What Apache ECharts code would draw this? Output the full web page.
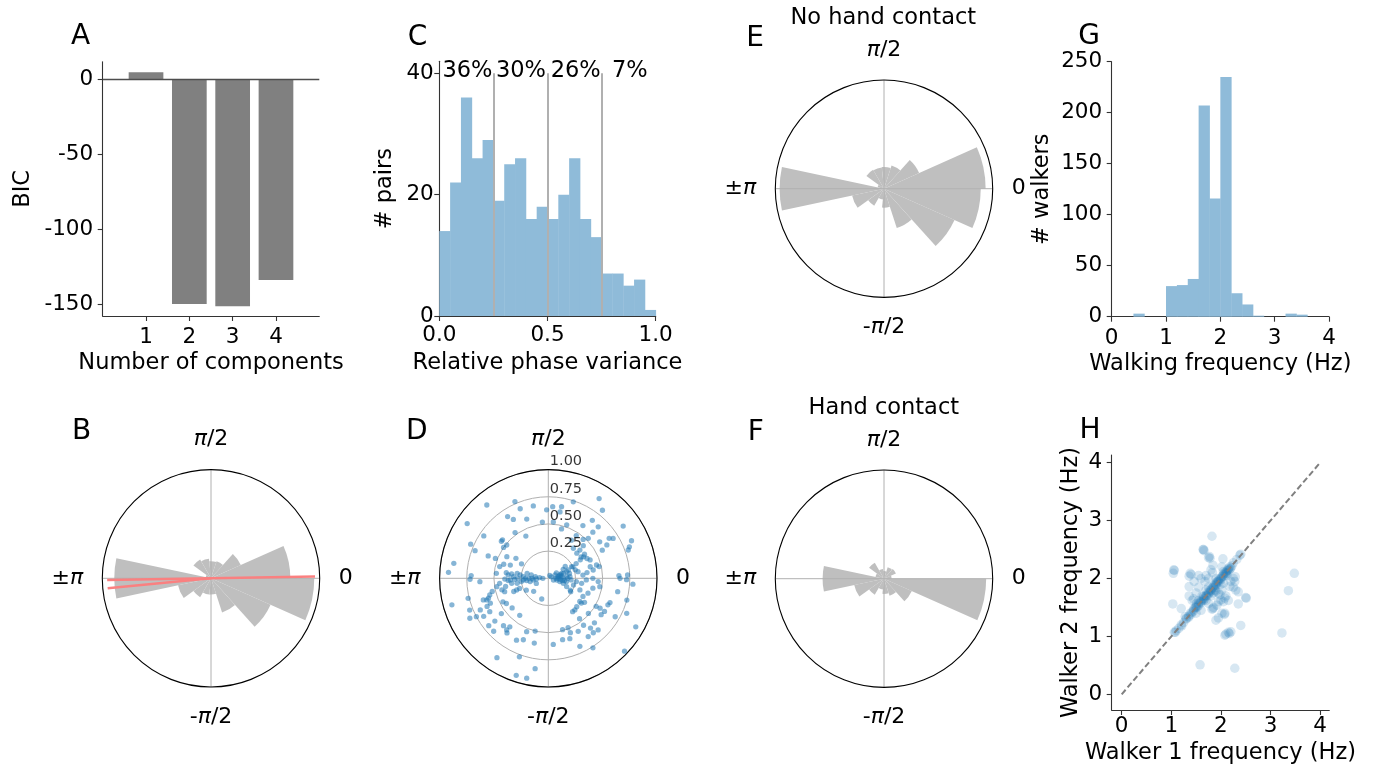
<!DOCTYPE html>
<html><head><meta charset="utf-8">
<script src="https://cdn.jsdelivr.net/npm/echarts@6/dist/echarts.min.js"></script>
<style>html,body{margin:0;padding:0;background:#fff}#c{width:1376px;height:767px}</style>
</head><body><div id="c"></div>
<script>
// ---------------- DATA ----------------
const bicComponents = [1, 2, 3, 4];
const bicValues = [5, -149.5, -151, -133.5];

const phaseVarEdges = [0,0.05,0.1,0.15,0.2,0.25,0.3,0.35,0.4,0.45,0.5,0.55,0.6,0.65,0.7,0.75,0.8,0.85,0.9,0.95,1.0];
const phaseVarCounts = [14,22,36,26,29,19,25,26,16,18,16,20,26,16,13,7,7,5,6,1];
const phaseVarCuts = [0.25, 0.5, 0.75];
const phaseVarShares = ['36%', '30%', '26%', '7%'];
const phaseVarShareX = [0.13, 0.377, 0.63, 0.88];

// rose histograms: 15 bins of 24 degrees starting at 0
const roseBins = ['12','36','60','84','108','132','156','180','204','228','252','276','300','324','348'];
const roseAll    = [0.73,0.30,0.165,0.157,0.18,0.20,0.05,0.89,0.31,0.20,0.15,0.15,0.33,0.60,0.95];
const roseNoHand = [0.935,0.354,0.225,0.20,0.195,0.20,0.06,0.96,0.30,0.18,0.10,0.175,0.38,0.71,0.89];
const roseHand   = [0.07,0.12,0.11,0.07,0.09,0.17,0.08,0.565,0.28,0.17,0.10,0.14,0.166,0.28,0.94];
const gmmMeanAngle = [1, 181, 185.5];
const gmmMeanLength = [0.957, 0.955, 0.955];

const freqEdges = [0,0.2,0.4,0.6,0.8,1.0,1.2,1.4,1.6,1.8,2.0,2.2,2.4,2.6,2.8,3.0,3.2,3.4,3.6,3.8,4.0];
const freqCounts = [0,0,3,0,0,30,31,37,207,116,235,23,12,1,0,0,3,2,0,0];

const dPhaseDeg = [130,113.5,101.7,112,123.4,120.7,110,96,146,146.7,126,118,141.7,140,145.4,141.3,156.3,159.3,159.6,159.4,
 152.5,148.3,162.5,160.8,151.7,166.4,171,176.6,178,174.5,172.4,175.2,173.3,171,173.3,167,168.7,172.9,175.4,177.3,
 176.2,180,91.4,86.5,79.5,80,71.9,57.5,51.5,52.8,45.9,34.9,84.9,75,71,56.7,46,56.8,58.7,48.1,
 45,31.6,24.3,33.3,35.4,29.7,27.5,43,41.8,50.2,41.4,33,33.6,27.1,23.7,15.4,13,15.4,10.5,8.4,
 5.4,12.5,25,17.4,13,20,35,31,20.6,16,9.5,34,26.6,26.6,63,21.2,19.5,2.2,2.4,0,
 341.6,348.7,344,341.6,349.7,356,353.3,351.5,357.5,0,356.2,335.6,331.7,345,329.2,339.8,332.4,339.4,347.5,350.8,
 356,359,349.1,344.5,338.5,336,326.4,323.1,323.6,315,310,306.1,329.6,330,329.5,325.5,318.8,307.7,316,310.3,
 306.9,314,304.4,309.6,299.4,291.8,292.1,289.6,283.1,274.3,285.5,294.9,302.7,316.3,331,335.9,330.1,
 186.3,190.3,183.8,189,183.3,187.8,190.9,185.9,194,197.1,200.9,200.2,199.4,208.3,221.6,203.2,189.2,193.2,195.9,198.4,
 199.4,203.2,204.7,198.4,182.8,180.7,194,202,207,208.1,195.4,204.9,210.5,209.7,218.7,226.6,216.9,219.3,211,207.4,
 232.3,218.5,224.1,231.1,231.6,247.9,256,232.9,242.8,247.9,237.1,249.8,261.7,257.8,251.7,257.8,252.4,
 0,355,7,0,352,12,0,5,0,351,4.4,14.7,17.7,22.6,26.6,27.9,30,31.3,
 180,180,180,183,180,181,182.5,181.7,187,186];
const dRadius = [0.88,0.77,0.68,0.69,0.68,0.63,0.58,0.52,0.90,0.71,0.52,0.44,0.55,0.55,0.50,0.49,0.78,0.72,0.59,0.52,
 0.43,0.35,0.43,0.37,0.28,0.46,0.88,0.92,0.71,0.48,0.39,0.37,0.34,0.29,0.26,0.20,0.16,0.12,0.08,0.32,
 0.23,0.18,0.63,0.66,0.67,0.62,0.74,0.87,0.80,0.67,0.66,0.84,0.52,0.47,0.52,0.58,0.59,0.47,0.41,0.48,
 0.52,0.70,0.84,0.67,0.58,0.62,0.56,0.44,0.39,0.36,0.35,0.36,0.40,0.40,0.42,0.46,0.48,0.40,0.42,0.36,
 0.32,0.28,0.25,0.26,0.20,0.18,0.19,0.16,0.13,0.11,0.09,0.09,0.07,0.03,0.03,0.80,0.78,0.65,0.73,0.66,
 0.05,0.08,0.11,0.145,0.17,0.21,0.26,0.31,0.35,0.41,0.46,0.185,0.23,0.24,0.24,0.31,0.36,0.39,0.42,0.48,
 0.78,0.72,0.65,0.75,0.61,0.60,0.40,0.38,0.36,0.37,0.38,0.38,0.51,0.55,0.60,0.59,0.49,0.47,0.59,0.60,
 0.54,0.66,0.65,0.65,0.56,0.49,0.54,0.59,0.58,0.61,0.49,0.69,0.76,0.97,0.92,0.79,0.71,
 0.14,0.17,0.23,0.29,0.37,0.34,0.40,0.45,0.44,0.42,0.34,0.31,0.28,0.23,0.18,0.12,0.48,0.53,0.56,0.58,
 0.60,0.58,0.62,0.63,0.63,0.72,0.76,0.78,0.81,0.75,0.92,0.69,0.69,0.62,0.63,0.60,0.54,0.43,0.45,0.47,
 0.43,0.70,0.70,0.61,0.57,0.53,0.50,0.63,0.64,0.61,0.87,0.77,0.84,0.94,0.94,0.61,0.20,
 0.09,0.11,0.12,0.14,0.15,0.10,0.07,0.17,0.18,0.13,0.20,0.12,0.15,0.20,0.24,0.29,0.34,0.38,
 0.28,0.21,0.15,0.11,0.05,0.40,0.35,0.31,0.25,0.20];
const dRadialTicks = [0.25, 0.5, 0.75, 1.0];

const walker1 = [1.08,1.10,1.15,1.20,1.25,1.30,1.35,1.38,1.42,1.45,1.48,1.50,1.52,1.55,1.58,1.60,1.62,1.65,1.67,1.70,
 1.72,1.74,1.76,1.78,1.80,1.82,1.84,1.86,1.88,1.90,1.92,1.94,1.96,1.98,2.00,2.02,2.04,2.06,2.08,2.10,
 2.12,2.14,2.16,2.18,2.20,1.60,1.70,1.80,1.90,2.00,2.10,1.75,1.85,1.95,2.05,1.65,1.55,1.45,1.50,1.40,
 1.35,2.15,2.18,1.62,1.70,1.75,1.85,1.90,2.00,1.55,1.80,1.70,2.05,2.12,
 1.04,1.05,1.06,1.03,1.20,1.06,1.21,1.38,1.40,1.36,1.36,1.36,1.46,1.58,1.82,1.65,1.66,1.64,1.77,1.75,
 1.78,2.04,1.84,1.80,1.83,1.88,1.90,1.84,1.85,1.82,1.90,1.95,2.02,2.08,2.07,2.08,2.10,2.17,2.15,2.20,
 2.28,2.40,2.51,2.50,2.35,2.35,2.30,2.29,2.25,2.40,2.38,2.32,3.23,3.36,3.48,2.08,2.05,2.10,2.00,2.05,
 2.18,2.25,1.92,1.65,1.51,1.28,1.30,2.02,2.12,1.75,1.92,1.95,1.70,1.75,1.60,1.68,1.55,1.50,1.45,1.55,
 1.98,2.02,1.95,2.22,2.25,1.42,1.50,1.60,2.15,2.20,2.28];
const walker2 = [1.07,1.10,1.14,1.20,1.24,1.31,1.35,1.40,1.42,1.44,1.50,1.52,1.50,1.56,1.60,1.58,1.63,1.66,1.65,1.71,
 1.70,1.76,1.75,1.80,1.78,1.83,1.85,1.84,1.90,1.88,1.93,1.95,1.94,2.00,1.98,2.03,2.05,2.04,2.10,2.08,
 2.13,2.15,2.14,2.20,2.18,1.60,1.70,1.80,1.90,2.00,2.10,1.73,1.87,1.97,2.07,1.62,1.53,1.47,1.50,1.38,
 1.33,2.17,2.16,1.70,1.62,1.85,1.75,2.00,1.90,1.62,1.70,1.80,2.12,2.05,
 2.09,2.15,2.14,1.56,1.48,1.07,1.18,2.09,2.07,2.04,1.86,1.70,1.95,0.51,2.73,2.50,2.48,2.50,2.38,2.36,
 2.35,2.34,2.23,2.15,2.10,1.80,1.78,1.48,1.50,1.47,1.28,1.32,1.40,1.40,1.38,1.02,1.04,1.05,1.07,1.08,
 0.45,1.19,1.66,1.67,1.56,1.77,1.80,2.03,2.00,2.42,2.40,2.33,1.06,1.79,2.09,1.66,1.60,1.70,1.63,1.92,
 1.86,1.85,1.95,1.69,1.57,1.34,1.30,2.20,2.09,1.57,1.54,1.60,2.05,2.00,2.00,1.95,1.85,1.75,1.65,2.05,
 1.72,1.80,1.75,2.22,2.27,1.62,1.40,1.45,1.62,1.95,1.95];

const angleTickValues = [0, 90, 180, 270];
const angleTickText = ['0', '{i|π}/2', '±{i|π}', '-{i|π}/2'];

// ---------------- STYLE / LAYOUT ----------------
const FONT = "'DejaVu Sans', sans-serif";
const AX = '#333';
const TICK_FS = 21.5, NAME_FS = 22.5;
const HIST = '#8fbbd9', ROSE = '#bfbfbf';
const R = 108.7;
const cB = [211, 578.3], cD = [548.3, 578.3], cE = [884, 188.7], cF = [884, 578.7];

function vAxis(o) {
  return {
    type: 'value', gridIndex: o.grid, min: o.min, max: o.max,
    axisLine: {show: true, onZero: false, lineStyle: {color: AX, width: 1.1}},
    axisTick: {show: true, inside: false, length: 5, customValues: o.ticks, lineStyle: {color: AX, width: 1.1}},
    axisLabel: {show: true, customValues: o.ticks, margin: o.margin, color: '#000', fontFamily: FONT,
      fontSize: TICK_FS, formatter: o.fmt || (v => String(v))},
    splitLine: {show: false},
    name: o.name, nameLocation: 'middle', nameGap: o.nameGap, nameRotate: o.rot || 0,
    nameTextStyle: {fontFamily: FONT, fontSize: NAME_FS, color: '#000'}
  };
}

function histSeries(idx, edges, counts, extra) {
  const data = counts.map((c, i) => [edges[i], edges[i + 1], c]).filter(d => d[2] > 0);
  return Object.assign({
    type: 'custom', xAxisIndex: idx, yAxisIndex: idx, data, encode: {x: [0, 1], y: 2},
    renderItem: (params, api) => {
      const a = api.coord([api.value(0), api.value(2)]);
      const b = api.coord([api.value(1), 0]);
      return {type: 'rect', shape: {x: a[0], y: a[1], width: b[0] - a[0] + 0.4, height: b[1] - a[1]},
        style: {fill: HIST}};
    }
  }, extra || {});
}

function barAngle(pi) {
  return {polarIndex: pi, type: 'category', data: roseBins, startAngle: 0, clockwise: false, boundaryGap: true,
    axisLine: {show: false}, axisTick: {show: false}, axisLabel: {show: false}, splitLine: {show: false}, splitArea: {show: false}};
}
function frameAngle(pi, z) {
  return {polarIndex: pi, type: 'value', min: 0, max: 360, interval: 90, startAngle: 0, clockwise: false, z: z,
    axisLine: {show: true, lineStyle: {color: '#000', width: 1.1}},
    axisTick: {show: false},
    splitLine: {show: true, lineStyle: {color: '#b0b0b0', width: 1}},
    splitArea: {show: false},
    axisLabel: {show: true, margin: 19, color: '#000', fontFamily: FONT, fontSize: 22,
      formatter: v => { const k = angleTickValues.indexOf(v); return k >= 0 ? angleTickText[k] : ''; },
      rich: {i: {fontStyle: 'italic', fontFamily: FONT, fontSize: 22, color: '#000'}}}
  };
}
function hiddenRadius(pi) {
  return {polarIndex: pi, type: 'value', min: 0, max: 1,
    axisLine: {show: false}, axisTick: {show: false}, axisLabel: {show: false}, splitLine: {show: false}, splitArea: {show: false}};
}

const texts = [
  ['A', 80.7, 37, 28], ['C', 417.5, 38, 28], ['E', 755, 39, 28], ['G', 1089, 37, 28],
  ['B', 81.7, 432, 28], ['D', 416.7, 432, 28], ['F', 755.7, 433, 28], ['H', 1090, 431, 28],
  ['No hand contact', 883.3, 18.5, 22.5], ['Hand contact', 883.8, 408.5, 22.5]
];

const option = {
  backgroundColor: '#fff',
  animation: false,
  textStyle: {fontFamily: FONT},
  grid: [
    {left: 102.7, top: 61.7, width: 216.6, height: 254.3},   // A
    {left: 439.3, top: 61.2, width: 216.4, height: 254.8},   // C
    {left: 1111.7, top: 61.7, width: 217.3, height: 255},    // G
    {left: 1111.7, top: 455, width: 217.6, height: 255}      // H
  ],
  xAxis: [
    vAxis({grid: 0, min: 0, max: 5, ticks: bicComponents, margin: 10, name: 'Number of components', nameGap: 36}),
    vAxis({grid: 1, min: 0, max: 1, ticks: [0, 0.5, 1], margin: 8, fmt: v => v.toFixed(1), name: 'Relative phase variance', nameGap: 36}),
    vAxis({grid: 2, min: 0, max: 4, ticks: [0, 1, 2, 3, 4], margin: 11, name: 'Walking frequency (Hz)', nameGap: 35.5}),
    vAxis({grid: 3, min: -0.2016, max: 4.185, ticks: [0, 1, 2, 3, 4], margin: 5, name: 'Walker 1 frequency (Hz)', nameGap: 32})
  ],
  yAxis: [
    vAxis({grid: 0, min: -157.5, max: 12, ticks: [-150, -100, -50, 0], margin: 9.5, name: 'BIC', nameGap: 68, rot: 90}),
    vAxis({grid: 1, min: 0, max: 42, ticks: [0, 20, 40], margin: 5.5, name: '# pairs', nameGap: 43, rot: 90}),
    vAxis({grid: 2, min: 0, max: 250, ticks: [0, 50, 100, 150, 200, 250], margin: 9.5, name: '# walkers', nameGap: 57.7, rot: 90}),
    vAxis({grid: 3, min: -0.271, max: 4.133, ticks: [0, 1, 2, 3, 4], margin: 9.5, name: 'Walker 2 frequency (Hz)', nameGap: 28.7, rot: 90})
  ],
  polar: [
    {center: cB, radius: R}, {center: cB, radius: R},
    {center: cE, radius: R}, {center: cE, radius: R},
    {center: cF, radius: R}, {center: cF, radius: R},
    {center: cD, radius: R}
  ],
  angleAxis: [
    barAngle(0), frameAngle(1, 3), barAngle(2), frameAngle(3, 3), barAngle(4), frameAngle(5, 3), frameAngle(6, 0)
  ],
  radiusAxis: [
    hiddenRadius(0), hiddenRadius(1), hiddenRadius(2), hiddenRadius(3), hiddenRadius(4), hiddenRadius(5),
    {polarIndex: 6, type: 'value', min: 0, max: 1, interval: 0.25,
      axisLine: {show: false}, axisTick: {show: false}, axisLabel: {show: false}, splitArea: {show: false},
      splitLine: {show: true, lineStyle: {color: '#b0b0b0', width: 1}}}
  ],
  graphic: texts.map(t => ({type: 'text', x: t[1], y: t[2], z: 10,
    style: {text: t[0], fontFamily: FONT, fontSize: t[3], fill: '#000',
      textAlign: 'center', textVerticalAlign: 'middle', align: 'center', verticalAlign: 'middle'}})),
  series: [
    // A
    {type: 'bar', xAxisIndex: 0, yAxisIndex: 0, data: bicComponents.map((c, i) => [c, bicValues[i]]),
      barWidth: 34.7, itemStyle: {color: '#808080'},
      markLine: {silent: true, symbol: ['none', 'none'], label: {show: false},
        lineStyle: {color: '#4d4d4d', width: 1.3, type: 'solid'}, data: [{yAxis: 0}]}},
    // C
    histSeries(1, phaseVarEdges, phaseVarCounts, {
      markLine: {silent: true, symbol: ['none', 'none'], label: {show: false},
        lineStyle: {color: '#b0b0b0', width: 2, type: 'solid'},
        data: phaseVarCuts.map(x => [{coord: [x, 0]}, {coord: [x, 40]}])}}),
    {type: 'custom', xAxisIndex: 1, yAxisIndex: 1, z: 6,
      data: phaseVarShareX.map((x, i) => [x, 40.4, i]), encode: {x: 0, y: 1},
      renderItem: (params, api) => {
        const p = api.coord([api.value(0), api.value(1)]);
        return {type: 'text', x: p[0], y: p[1],
          style: {text: phaseVarShares[api.value(2)], fill: '#000', fontFamily: FONT, fontSize: 22.5,
            align: 'center', verticalAlign: 'middle', textAlign: 'center', textVerticalAlign: 'middle'}};
      }},
    // G
    histSeries(2, freqEdges, freqCounts),
    // H
    {type: 'scatter', xAxisIndex: 3, yAxisIndex: 3, symbolSize: 9.5,
      itemStyle: {color: 'rgba(31,119,180,0.22)'},
      data: walker1.map((x, i) => [x, walker2[i]])},
    {type: 'line', xAxisIndex: 3, yAxisIndex: 3, z: 5, symbol: 'none', data: [[0, 0], [4, 4]],
      lineStyle: {color: '#808080', width: 2, type: [6, 3]}},
    // B
    {type: 'bar', coordinateSystem: 'polar', polarIndex: 0, data: roseAll, barCategoryGap: '0%', barGap: '0%',
      itemStyle: {color: ROSE}},
    ...gmmMeanAngle.map((a, i) => ({type: 'line', coordinateSystem: 'polar', polarIndex: 1, z: 6, symbol: 'none',
      data: [[0, a], [gmmMeanLength[i], a]], lineStyle: {color: '#fa8080', width: 2.5}})),
    // E
    {type: 'bar', coordinateSystem: 'polar', polarIndex: 2, data: roseNoHand, barCategoryGap: '0%', barGap: '0%',
      itemStyle: {color: ROSE}},
    // F
    {type: 'bar', coordinateSystem: 'polar', polarIndex: 4, data: roseHand, barCategoryGap: '0%', barGap: '0%',
      itemStyle: {color: ROSE}},
    // D
    {type: 'scatter', coordinateSystem: 'polar', polarIndex: 6, symbolSize: 5.3,
      itemStyle: {color: 'rgba(31,119,180,0.68)'},
      data: dPhaseDeg.map((a, i) => [dRadius[i], a])},
    {type: 'scatter', coordinateSystem: 'polar', polarIndex: 6, symbolSize: 1, z: 6,
      itemStyle: {color: 'rgba(0,0,0,0)'},
      data: dRadialTicks.map(r => [r, 90]),
      label: {show: true, position: [2, 0], align: 'left', verticalAlign: 'bottom', color: '#000',
        fontFamily: FONT, fontSize: 14.5, formatter: p => p.value[0].toFixed(2)}}
  ]
};

const chart = echarts.init(document.getElementById('c'), null, {renderer: 'canvas'});
chart.setOption(option);
</script>
</body></html>
